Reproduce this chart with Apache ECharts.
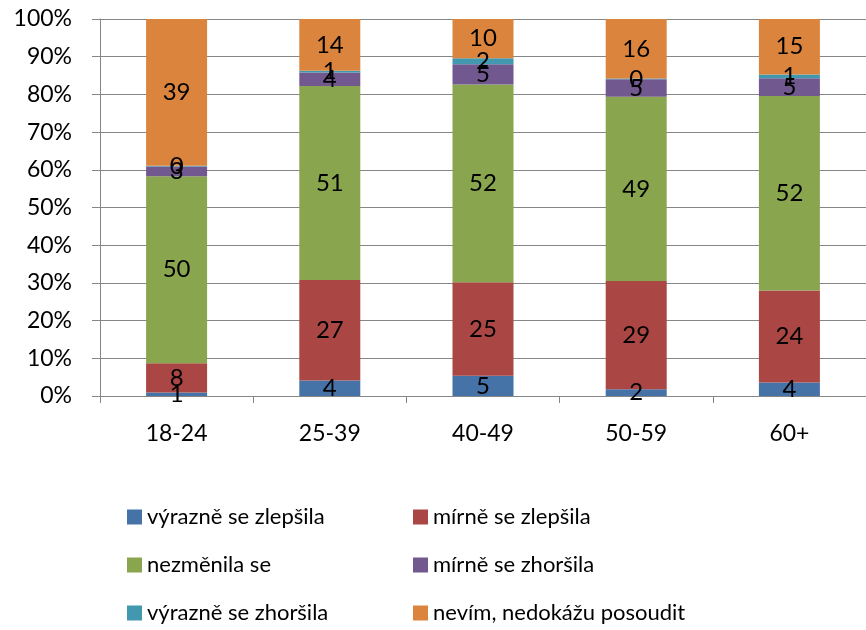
<!DOCTYPE html>
<html>
<head>
<meta charset="utf-8">
<script src="https://cdn.jsdelivr.net/npm/echarts@6/dist/echarts.min.js"></script>
<style>
	html, body { margin: 0; padding: 0; background: #fff; }
	#main { width: 866px; height: 630px; }
</style>
</head>
<body>
<div id="main"></div>
<script>
	// věkové skupiny
	var categories = ['18-24', '25-39', '40-49', '50-59', '60+'];
	var seriesNames = ['výrazně se zlepšila', 'mírně se zlepšila', 'nezměnila se', 'mírně se zhoršila', 'výrazně se zhoršila', 'nevím, nedokážu posoudit'];

	// hodnoty v %
	var vyrazneZlepsila = [0.9, 4.1, 5.4, 1.8, 3.6];
	var mirneZlepsila = [7.8, 26.7, 24.8, 28.7, 24.4];
	var nezmenila = [49.6, 51.4, 52.4, 48.9, 51.6];
	var mirneZhorsila = [2.6, 3.6, 5.4, 4.6, 4.7];
	var vyrazneZhorsila = [0.2, 0.5, 1.6, 0.2, 1.0];
	var nevim = [38.9, 13.7, 10.4, 15.8, 14.7];

	var yTicks = { min: 0, max: 100, interval: 10 };

	var colors = ['#4572A7', '#AA4643', '#89A54E', '#71588F', '#4198AF', '#DB843D'];
	var font = 'Lato';
	var allData = [vyrazneZlepsila, mirneZlepsila, nezmenila, mirneZhorsila, vyrazneZhorsila, nevim];

	var series = [];
	for (var i = 0; i < allData.length; i++) {
		series.push({
			name: seriesNames[i],
			type: 'bar',
			stack: 'celkem',
			barWidth: 61,
			itemStyle: { color: colors[i] },
			label: {
				show: true,
				position: 'inside',
				color: '#000',
				fontFamily: font,
				fontSize: 24,
				formatter: function (p) { return Math.round(p.value); }
			},
			data: allData[i]
		});
	}

	// legenda: 2 sloupce x 3 řádky, každá položka zvlášť
	var legendCols = [127, 413];
	var legendRows = [506, 554, 602];
	var legends = [];
	for (var k = 0; k < seriesNames.length; k++) {
		legends.push({
			left: legendCols[k % 2],
			top: legendRows[Math.floor(k / 2)],
			padding: 0,
			itemWidth: 15,
			itemHeight: 15,
			icon: 'rect',
			textStyle: { color: '#000', fontFamily: font, fontSize: 22, lineHeight: 22 },
			data: [seriesNames[k]]
		});
	}

	var myChart = echarts.init(document.getElementById('main'));
	myChart.setOption({
		backgroundColor: '#fff',
		animation: false,
		color: colors,
		grid: { left: 100, top: 19, width: 772, height: 377 },
		legend: legends,
		xAxis: {
			type: 'category',
			data: categories,
			axisLine: { lineStyle: { color: '#868686' } },
			axisTick: { show: true, length: 7, lineStyle: { color: '#868686' } },
			axisLabel: { color: '#000', fontFamily: font, fontSize: 23, margin: 26 }
		},
		yAxis: {
			type: 'value',
			min: yTicks.min,
			max: yTicks.max,
			interval: yTicks.interval,
			axisLine: { show: true, lineStyle: { color: '#868686' } },
			axisTick: { show: true, length: 8, lineStyle: { color: '#868686' } },
			splitLine: { show: true, lineStyle: { color: '#868686' } },
			axisLabel: { color: '#000', fontFamily: font, fontSize: 23, margin: 28, formatter: '{value}%' }
		},
		series: series
	});
</script>
</body>
</html>
